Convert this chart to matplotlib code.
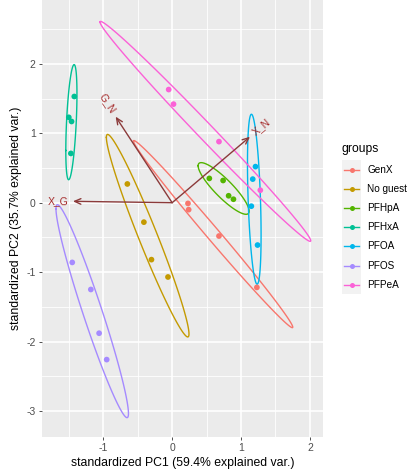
import numpy as np
import matplotlib.pyplot as plt
from matplotlib.lines import Line2D
from matplotlib.patches import Rectangle

plt.rcParams['font.family'] = ['Liberation Sans', 'DejaVu Sans']
plt.rcParams['axes.unicode_minus'] = False

# --- data ---
groups = ['GenX', 'No guest', 'PFHpA', 'PFHxA', 'PFOA', 'PFOS', 'PFPeA']
colors = ['#F8766D', '#C49A00', '#53B400', '#00C094', '#00B6EB', '#A58AFF', '#FB61D7']

genx_pc1 = [0.23, 0.24, 0.68, 1.23]
genx_pc2 = [-0.01, -0.10, -0.48, -1.22]
noguest_pc1 = [-0.65, -0.41, -0.30, -0.06]
noguest_pc2 = [0.27, -0.28, -0.82, -1.07]
pfhpa_pc1 = [0.54, 0.74, 0.82, 0.89]
pfhpa_pc2 = [0.35, 0.32, 0.10, 0.05]
pfhxa_pc1 = [-1.42, -1.50, -1.46, -1.47]
pfhxa_pc2 = [1.53, 1.23, 1.17, 0.71]
pfoa_pc1 = [1.21, 1.17, 1.15, 1.24]
pfoa_pc2 = [0.52, 0.34, -0.05, -0.61]
pfos_pc1 = [-1.45, -1.18, -1.06, -0.95]
pfos_pc2 = [-0.86, -1.25, -1.88, -2.26]
pfpea_pc1 = [-0.05, 0.02, 0.68, 1.28]
pfpea_pc2 = [1.63, 1.42, 0.88, 0.18]

pc1 = [genx_pc1, noguest_pc1, pfhpa_pc1, pfhxa_pc1, pfoa_pc1, pfos_pc1, pfpea_pc1]
pc2 = [genx_pc2, noguest_pc2, pfhpa_pc2, pfhxa_pc2, pfoa_pc2, pfos_pc2, pfpea_pc2]

var_names = ['G_N', 'X_N', 'X_G']
var_x = [-0.82, 1.13, -1.44]
var_y = [1.24, 0.95, 0.02]

ellipse_prob = 0.95

fig = plt.figure(figsize=(4.08, 4.73), dpi=100)
ax = fig.add_axes([42 / 408, 1 - 437 / 473, (323 - 42) / 408, 437 / 473])
ax.set_facecolor('#EBEBEB')
for s in ax.spines.values():
    s.set_visible(False)

ax.set_xlim(-1.889, 2.19)
ax.set_ylim(-3.375, 2.92)
ax.set_xticks([-1, 0, 1, 2])
ax.set_yticks([-3, -2, -1, 0, 1, 2])
ax.set_xticks([-1.5, -0.5, 0.5, 1.5], minor=True)
ax.set_yticks([-2.5, -1.5, -0.5, 0.5, 1.5, 2.5], minor=True)
ax.grid(True, which='major', color='white', lw=1.2)
ax.grid(True, which='minor', color='white', lw=0.6)
ax.set_axisbelow(True)
ax.tick_params(which='major', length=2.5, width=0.6, color='#333333',
               labelsize=7.5, labelcolor='#4D4D4D', pad=2)
ax.tick_params(which='minor', length=0)

# ellipses (normal data ellipse, like ggbiplot)
ed = np.sqrt(-2 * np.log(1 - ellipse_prob))
theta = np.linspace(-np.pi, np.pi, 100)
circle = np.column_stack([np.cos(theta), np.sin(theta)])
for xs, ys, c in zip(pc1, pc2, colors):
    pts = np.column_stack([xs, ys])
    sigma = np.cov(pts.T)
    mu = pts.mean(axis=0)
    L = np.linalg.cholesky(sigma)
    ell = circle @ L.T * ed + mu
    ax.plot(ell[:, 0], ell[:, 1], color=c, lw=1.0, zorder=2)

# variable arrows
for name, vx, vy in zip(var_names, var_x, var_y):
    ax.annotate('', xy=(vx, vy), xytext=(0, 0),
                arrowprops=dict(arrowstyle='->,head_length=0.45,head_width=0.2',
                                color='#8B3A3A', lw=1.0, shrinkA=0, shrinkB=0),
                zorder=3)
    ang = np.degrees(np.arctan(vy / vx))
    d = np.hypot(vx, vy)
    off = 0.07
    tx = vx + off * vx / d
    ty = vy + off * vy / d
    ax.text(tx, ty, name, color='#A52A2A', fontsize=7.5, rotation=ang,
            rotation_mode='anchor', ha='left' if vx > 0 else 'right', va='center',
            zorder=4)

# points
for xs, ys, c in zip(pc1, pc2, colors):
    ax.scatter(xs, ys, s=17, color=c, edgecolors='none', zorder=5)

ax.set_xlabel('standardized PC1 (59.4% explained var.)', fontsize=8.8, color='black', labelpad=3)
ax.set_ylabel('standardized PC2 (35.7% explained var.)', fontsize=8.8, color='black', labelpad=3)

# legend drawn like ggplot's
fig.text(342 / 408, 1 - 149 / 473, 'groups', fontsize=8.7, va='center', ha='left')
key_h = 19.2
key_top = 160
fig.patches.append(Rectangle((342 / 408, 1 - (key_top + key_h * len(groups)) / 473),
                             19 / 408, key_h * len(groups) / 473,
                             transform=fig.transFigure, facecolor='#F2F2F2',
                             edgecolor='none', zorder=0))
for i, (g, c) in enumerate(zip(groups, colors)):
    yc = 1 - (key_top + key_h * (i + 0.5)) / 473
    fig.lines.append(Line2D([344 / 408, 359 / 408], [yc, yc], color=c, lw=1.0,
                            transform=fig.transFigure))
    fig.lines.append(Line2D([351.5 / 408], [yc], color=c, marker='o', ms=3.6,
                            mec='none', transform=fig.transFigure))
    fig.text(367 / 408, yc, g, fontsize=7.2, va='center', ha='left')

fig.savefig('out.png', dpi=100)
